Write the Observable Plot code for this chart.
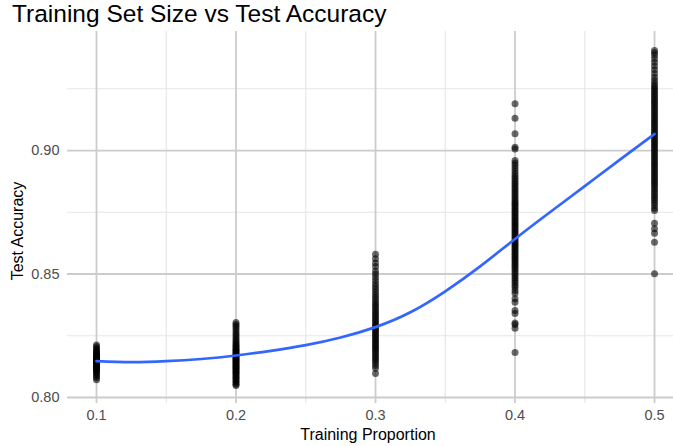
<!DOCTYPE html>
<html>
<head>
<meta charset="utf-8">
<script src="https://cdn.jsdelivr.net/npm/d3@7"></script>
<script src="https://cdn.jsdelivr.net/npm/@observablehq/plot@0.6"></script>
<style>
  html, body { margin: 0; padding: 0; background: #ffffff; }
  body { width: 673px; height: 446px; position: relative; overflow: hidden; font-family: "Liberation Sans", Arial, Helvetica, sans-serif; }
  #title { position: absolute; left: 12px; top: 0px; font-size: 24.5px; color: #000; white-space: nowrap; }
  #chart { position: absolute; left: 0; top: 28px; }
  #xlab { position: absolute; left: 368px; top: 426px; transform: translateX(-50%); font-size: 16px; color: #000; white-space: nowrap; }
  #ylab { position: absolute; left: 18px; top: 231px; transform: translate(-50%, -50%) rotate(-90deg); font-size: 16px; color: #000; white-space: nowrap; }
</style>
</head>
<body>
<div id="title">Training Set Size vs Test Accuracy</div>
<div id="chart"></div>
<div id="xlab">Training Proportion</div>
<div id="ylab">Test Accuracy</div>
<script>
// ---- data ----
const proportions = [0.1, 0.2, 0.3, 0.4, 0.5];
const acc01 = [0.8072, 0.8080, 0.8087, 0.8093, 0.8099, 0.8104, 0.8108, 0.8112, 0.8116, 0.8119, 0.8122, 0.8125, 0.8128, 0.8130, 0.8133, 0.8135, 0.8137, 0.8139, 0.8141, 0.8143, 0.8145, 0.8147, 0.8149, 0.8151, 0.8153, 0.8156, 0.8158, 0.8161, 0.8164, 0.8167, 0.8170, 0.8174, 0.8178, 0.8182, 0.8187, 0.8192, 0.8198, 0.8205, 0.8213];
const acc02 = [0.8049, 0.8054, 0.8060, 0.8066, 0.8071, 0.8077, 0.8082, 0.8087, 0.8092, 0.8097, 0.8102, 0.8106, 0.8111, 0.8115, 0.8120, 0.8124, 0.8128, 0.8132, 0.8137, 0.8141, 0.8145, 0.8149, 0.8153, 0.8157, 0.8161, 0.8165, 0.8169, 0.8173, 0.8177, 0.8181, 0.8186, 0.8190, 0.8195, 0.8200, 0.8205, 0.8211, 0.8217, 0.8223, 0.8230, 0.8237, 0.8245, 0.8253, 0.8261, 0.8270, 0.8279, 0.8288, 0.8296, 0.8304];
const acc03 = [0.8097, 0.8118, 0.8130, 0.8140, 0.8149, 0.8157, 0.8165, 0.8173, 0.8181, 0.8189, 0.8196, 0.8203, 0.8210, 0.8217, 0.8224, 0.8231, 0.8238, 0.8245, 0.8252, 0.8259, 0.8266, 0.8273, 0.8280, 0.8287, 0.8294, 0.8302, 0.8310, 0.8318, 0.8326, 0.8334, 0.8342, 0.8350, 0.8359, 0.8368, 0.8377, 0.8386, 0.8396, 0.8406, 0.8416, 0.8427, 0.8438, 0.8449, 0.8461, 0.8474, 0.8487, 0.8500, 0.8512, 0.8530, 0.8545, 0.8562, 0.8580];
const acc04 = [0.9189, 0.9131, 0.9068, 0.9013, 0.9006, 0.8960, 0.8950, 0.8939, 0.8928, 0.8917, 0.8906, 0.8896, 0.8887, 0.8878, 0.8869, 0.8861, 0.8852, 0.8844, 0.8836, 0.8828, 0.8820, 0.8812, 0.8804, 0.8796, 0.8789, 0.8782, 0.8775, 0.8768, 0.8761, 0.8754, 0.8747, 0.8740, 0.8733, 0.8726, 0.8719, 0.8712, 0.8705, 0.8698, 0.8691, 0.8684, 0.8677, 0.8670, 0.8663, 0.8656, 0.8649, 0.8642, 0.8635, 0.8628, 0.8621, 0.8614, 0.8607, 0.8600, 0.8593, 0.8586, 0.8579, 0.8572, 0.8565, 0.8558, 0.8551, 0.8543, 0.8535, 0.8527, 0.8519, 0.8510, 0.8501, 0.8492, 0.8483, 0.8474, 0.8465, 0.8455, 0.8445, 0.8433, 0.8422, 0.8400, 0.8386, 0.8352, 0.8340, 0.8302, 0.8296, 0.8280, 0.8182];
const acc05 = [0.9405, 0.9396, 0.9386, 0.9372, 0.9357, 0.9342, 0.9327, 0.9312, 0.9297, 0.9284, 0.9272, 0.9262, 0.9254, 0.9246, 0.9238, 0.9230, 0.9222, 0.9214, 0.9206, 0.9198, 0.9190, 0.9182, 0.9174, 0.9166, 0.9158, 0.9150, 0.9142, 0.9134, 0.9126, 0.9118, 0.9110, 0.9102, 0.9094, 0.9086, 0.9078, 0.9070, 0.9062, 0.9054, 0.9046, 0.9038, 0.9030, 0.9022, 0.9014, 0.9006, 0.8998, 0.8990, 0.8982, 0.8974, 0.8966, 0.8958, 0.8950, 0.8942, 0.8934, 0.8926, 0.8918, 0.8910, 0.8902, 0.8894, 0.8886, 0.8878, 0.8870, 0.8862, 0.8853, 0.8844, 0.8835, 0.8826, 0.8817, 0.8808, 0.8799, 0.8789, 0.8778, 0.8766, 0.8757, 0.8706, 0.8683, 0.8665, 0.8629, 0.8501];
const accuracyGroups = [acc01, acc02, acc03, acc04, acc05];

// loess fit
const smoothX = [0.100, 0.125, 0.150, 0.175, 0.200, 0.225, 0.250, 0.275, 0.300, 0.325, 0.350, 0.375, 0.400, 0.425, 0.450, 0.475, 0.500];
const smoothY = [0.8147, 0.8143, 0.8147, 0.8156, 0.8170, 0.8189, 0.8212, 0.8243, 0.8285, 0.8345, 0.8430, 0.8531, 0.8642, 0.8750, 0.8856, 0.8962, 0.9067];

const xTicks = [0.1, 0.2, 0.3, 0.4, 0.5];
const xMinor = [0.15, 0.25, 0.35, 0.45];
const yTicks = [0.80, 0.85, 0.90];
const yMinor = [0.825, 0.875, 0.925];

// ---- build table ----
const points = [];
proportions.forEach((p, i) => accuracyGroups[i].forEach(v => points.push({p, acc: v})));
const smooth = smoothX.map((x, i) => ({x, y: smoothY[i]}));

const chart = Plot.plot({
  width: 673,
  height: 418,
  marginLeft: 67,
  marginRight: 0,
  marginTop: 3,
  marginBottom: 43,
  style: {fontFamily: '"Liberation Sans", Arial, Helvetica, sans-serif', background: "transparent"},
  x: {domain: [0.0792, 0.5136]},
  y: {domain: [0.79757, 0.9482]},
  marks: [
    Plot.ruleX(xMinor, {stroke: "#e6e6e6", strokeWidth: 1.1}),
    Plot.ruleY(yMinor, {stroke: "#e6e6e6", strokeWidth: 1.1}),
    Plot.ruleX(xTicks, {stroke: "#cccccc", strokeWidth: 1.8}),
    Plot.ruleY(yTicks, {stroke: "#cccccc", strokeWidth: 1.8}),
    Plot.axisX(xTicks, {tickSize: 0, tickPadding: 6, fontSize: 14.5, fill: "#4d4d4d", label: null, tickFormat: d => d.toFixed(1)}),
    Plot.axisY(yTicks, {tickSize: 0, tickPadding: 8, fontSize: 14.5, fill: "#4d4d4d", label: null, tickFormat: d => d.toFixed(2)}),
    Plot.dot(points, {x: "p", y: "acc", r: 3.5, fill: "#000000", fillOpacity: 0.58, stroke: "none"}),
    Plot.line(smooth, {x: "x", y: "y", stroke: "#3366ff", strokeWidth: 2.7, curve: "natural"})
  ]
});
document.getElementById("chart").appendChild(chart);
</script>
</body>
</html>
